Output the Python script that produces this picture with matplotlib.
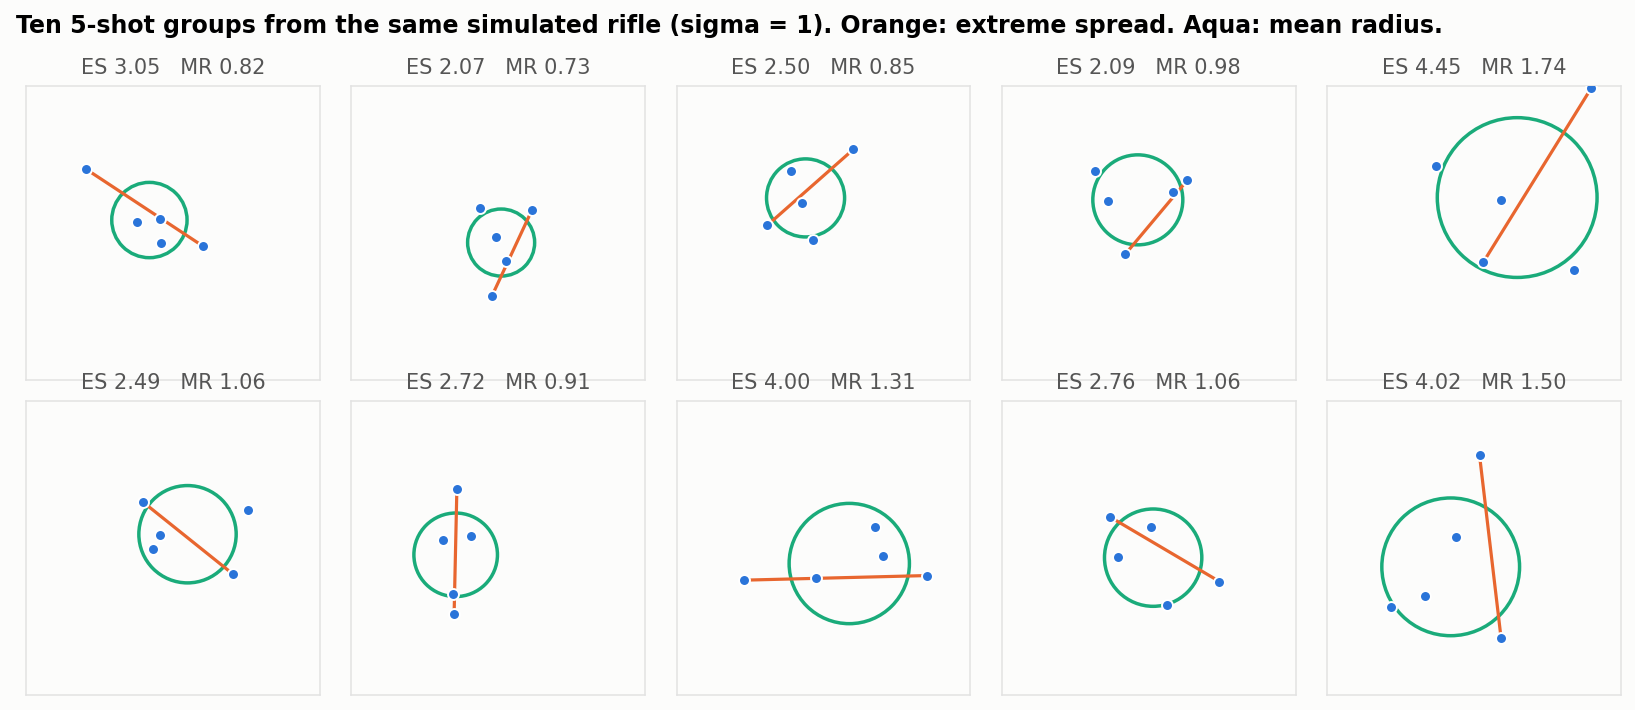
import numpy as np
import matplotlib.pyplot as plt
from matplotlib.patches import Circle


TITLE = ("Ten 5-shot groups from the same simulated rifle (sigma = 1). "
         "Orange: extreme spread. Aqua: mean radius.")

# shot positions, one row per group (5 shots each)
shots_x = [
    [-1.89, -0.78, -0.29, -0.26, 0.66],
    [-0.40, 0.74, -0.05, 0.17, -0.14],
    [0.65, -0.70, -0.46, -1.22, -0.22],
    [-1.16, -0.88, 0.52, 0.84, -0.51],
    [2.55, 2.18, 0.20, 0.59, -0.82],
    [-0.65, 1.64, -0.28, -0.43, 1.31],
    [-0.90, -1.20, -0.59, -0.98, -0.96],
    [-1.72, -0.16, 1.13, 1.30, 2.26],
    [-0.85, 0.06, -0.66, 1.54, 0.39],
    [0.12, -0.39, -1.06, -1.80, 0.59],
]
shots_y = [
    [1.39, 0.23, 0.30, -0.22, -0.29],
    [0.54, 0.51, -0.09, -0.62, -1.38],
    [1.82, 1.34, 0.65, 0.17, -0.16],
    [1.34, 0.69, 0.89, 1.15, -0.46],
    [3.15, -0.81, -0.64, 0.71, 1.45],
    [1.00, 0.82, 0.28, -0.03, -0.57],
    [1.28, 0.17, 0.26, -1.01, -1.44],
    [-0.70, -0.66, 0.45, -0.18, -0.60],
    [0.68, 0.45, -0.20, -0.73, -1.25],
    [2.02, 0.23, -1.05, -1.28, -1.97],
]

# group stats as printed above each panel
es_vals = [3.05, 2.07, 2.50, 2.09, 4.45, 2.49, 2.72, 4.00, 2.76, 4.02]
mr_vals = [0.82, 0.73, 0.85, 0.98, 1.74, 1.06, 0.91, 1.31, 1.06, 1.50]

LIM = 3.2
BG = "#fcfcfb"
SHOT_COLOR = "#2a74d9"
ES_COLOR = "#e8662f"
MR_COLOR = "#1aab7a"


def farthest_pair(x, y):
    best = (0, 1)
    best_d = -1.0
    for i in range(len(x)):
        for j in range(i + 1, len(x)):
            d = np.hypot(x[i] - x[j], y[i] - y[j])
            if d > best_d:
                best_d = d
                best = (i, j)
    return best


fig, axes = plt.subplots(2, 5, figsize=(16.35, 7.1), dpi=100)
fig.patch.set_facecolor(BG)
fig.subplots_adjust(left=0.0159, right=0.9914, top=0.8789, bottom=0.0211,
                    wspace=0.107, hspace=0.0714)

for k, ax in enumerate(axes.flat):
    x = np.array(shots_x[k])
    y = np.array(shots_y[k])
    ax.set_facecolor(BG)

    # mean radius circle around the group centre
    cx, cy = x.mean(), y.mean()
    ax.add_patch(Circle((cx, cy), mr_vals[k], fill=False,
                        edgecolor=MR_COLOR, linewidth=2.5, zorder=2))

    # extreme spread: the two shots farthest apart
    i, j = farthest_pair(x, y)
    ax.plot([x[i], x[j]], [y[i], y[j]], color=ES_COLOR, linewidth=2.3,
            solid_capstyle="butt", zorder=3)

    ax.scatter(x, y, s=62, color=SHOT_COLOR, edgecolor="white",
               linewidth=1.4, zorder=4)

    ax.set_xlim(-LIM, LIM)
    ax.set_ylim(-LIM, LIM)
    ax.set_aspect("equal")
    ax.set_xticks([])
    ax.set_yticks([])
    for sp in ax.spines.values():
        sp.set_color("#e2e2e2")
        sp.set_linewidth(1.1)

    ax.set_title(f"ES {es_vals[k]:.2f}   MR {mr_vals[k]:.2f}",
                 fontsize=15, color="#555555", pad=9)

fig.text(16 / 1635, 1 - 33 / 710, TITLE, ha="left", va="baseline",
         fontsize=17, fontweight="bold", color="black")

fig.savefig("out.png", dpi=100, facecolor=BG)
